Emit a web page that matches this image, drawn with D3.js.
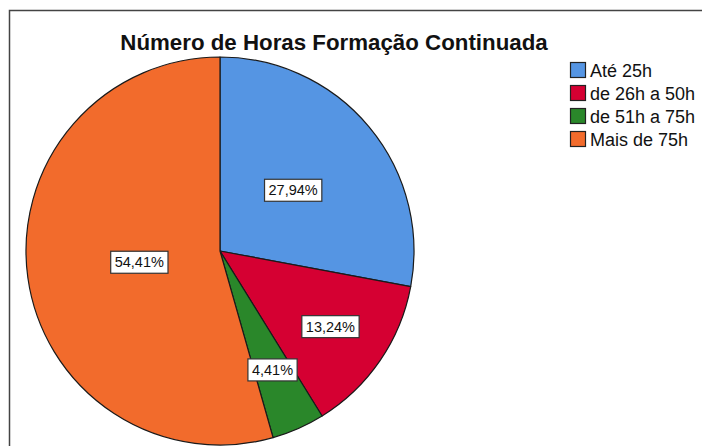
<!DOCTYPE html>
<html><head><meta charset="utf-8">
<script src="https://cdn.jsdelivr.net/npm/d3@7"></script>
<style>body{margin:0;background:#fff}svg{display:block}</style>
</head><body>
<script>
const categories = ["Até 25h", "de 26h a 50h", "de 51h a 75h", "Mais de 75h"];
const values = [27.94, 13.24, 4.41, 54.41];
const labels = ["27,94%", "13,24%", "4,41%", "54,41%"];
const colors = ["#5595e3", "#d50032", "#2a872a", "#f26b2c"];
const title = "Número de Horas Formação Continuada";
// layout: radial position of each percentage label, as a fraction of radius
const labelRadiusFrac = [0.49, 0.69, 0.67, 0.42];

const W = 702, H = 446;
const FONT = "Liberation Sans, Arial, sans-serif";
const svg = d3.select("body").append("svg").attr("width", W).attr("height", H);
svg.append("rect").attr("width", W).attr("height", H).attr("fill", "#fff");
// frame
svg.append("path").attr("d", `M9.5,${H+5} V10.5 H${W+5}`).attr("fill", "none")
  .attr("stroke", "#444").attr("stroke-width", 1.5);

svg.append("text").attr("x", 334).attr("y", 50).attr("text-anchor", "middle")
  .attr("font-family", FONT).attr("font-weight", "bold")
  .attr("font-size", 22.3).attr("fill", "#111").text(title);

const cx = 220, cy = 251, R = 194;
const pie = d3.pie().sort(null).value(d => d)(values);
const arc = d3.arc().innerRadius(0).outerRadius(R);
const g = svg.append("g").attr("transform", `translate(${cx},${cy})`);
g.selectAll("path").data(pie).join("path")
  .attr("d", arc).attr("fill", (d, i) => colors[i])
  .attr("stroke", "#1a1a1a").attr("stroke-width", 1.2).attr("stroke-linejoin", "round");

pie.forEach((d, i) => {
  const a = (d.startAngle + d.endAngle) / 2;
  const r = R * labelRadiusFrac[i];
  const x = Math.sin(a) * r, y = -Math.cos(a) * r;
  const lg = g.append("g").attr("transform", `translate(${x},${y})`);
  const t = lg.append("text").attr("text-anchor", "middle").attr("dy", "0.35em")
    .attr("font-family", FONT).attr("font-size", 14.5)
    .attr("fill", "#111").text(labels[i]);
  const bb = t.node().getBBox();
  lg.insert("rect", "text").attr("x", bb.x - 4).attr("y", -11).attr("width", bb.width + 8)
    .attr("height", 22).attr("fill", "#fff").attr("stroke", "#333").attr("stroke-width", 1.2);
});

const leg = svg.append("g").attr("transform", "translate(570,62)");
categories.forEach((c, i) => {
  const row = leg.append("g").attr("transform", `translate(0,${i * 23})`);
  row.append("rect").attr("x", 0.5).attr("y", 0.5).attr("width", 15).attr("height", 15)
    .attr("fill", colors[i]).attr("stroke", "#222").attr("stroke-width", 1.2);
  row.append("text").attr("x", 20).attr("y", 8.5).attr("dy", "0.35em")
    .attr("font-family", FONT).attr("font-size", 18)
    .attr("fill", "#111").text(c);
});
</script>
</body></html>
